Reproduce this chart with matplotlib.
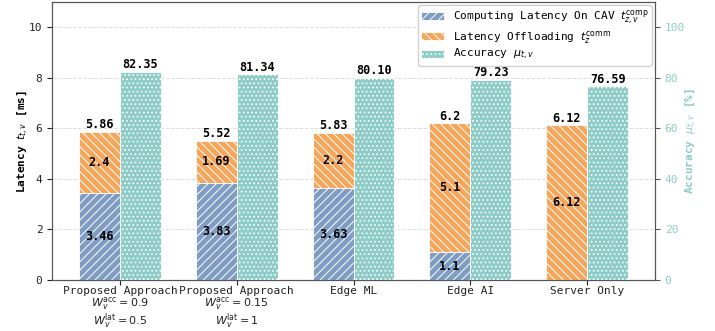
import matplotlib
matplotlib.use("Agg")
import matplotlib.pyplot as plt
import numpy as np

methods = [
    "Proposed Approach\n$W_v^{\\mathrm{acc}}=0.9$\n$W_v^{\\mathrm{lat}}=0.5$",
    "Proposed Approach\n$W_v^{\\mathrm{acc}}=0.15$\n$W_v^{\\mathrm{lat}}=1$",
    "Edge ML",
    "Edge AI",
    "Server Only",
]
comp_latency = [3.46, 3.83, 3.63, 1.1, 0.0]
comm_latency = [2.4, 1.69, 2.2, 5.1, 6.12]
accuracy = [82.35, 81.34, 80.10, 79.23, 76.59]

plt.rcParams["font.family"] = "DejaVu Sans Mono"
plt.rcParams["font.size"] = 8
plt.rcParams["hatch.color"] = "white"
plt.rcParams["hatch.linewidth"] = 0.7

blue = "#7f9cc5"
orange = "#f5a65b"
teal = "#8ecdc7"
spine_col = "#555555"

fig, ax = plt.subplots(figsize=(7.15, 3.31), dpi=100)
fig.subplots_adjust(left=0.073, right=0.916, top=0.994, bottom=0.154)
ax2 = ax.twinx()

x = np.arange(len(methods))
w = 0.35
comp = np.array(comp_latency)
comm = np.array(comm_latency)
total = comp + comm

b1 = ax.bar(x - w / 2, comp, w, color=blue, hatch="////", edgecolor="white",
            linewidth=0.6, label="Computing Latency On CAV $t_{z,v}^{\\mathrm{comp}}$",
            zorder=3)
b2 = ax.bar(x - w / 2, comm, w, bottom=comp, color=orange, hatch="\\\\\\\\",
            edgecolor="white", linewidth=0.6,
            label="Latency Offloading $t_z^{\\mathrm{comm}}$", zorder=3)
b3 = ax2.bar(x + w / 2, accuracy, w, color=teal, hatch="....", edgecolor="white",
             linewidth=0.6, label="Accuracy $\\mu_{t,v}$", zorder=3)

# segment values inside the stacks
for i in range(len(methods)):
    if comp[i] > 0:
        ax.text(x[i] - w / 2, comp[i] / 2, f"{comp[i]:g}", ha="center",
                va="center", fontweight="bold", fontsize=8.5, zorder=5)
    ax.text(x[i] - w / 2, comp[i] + comm[i] / 2, f"{comm[i]:g}", ha="center",
            va="center", fontweight="bold", fontsize=8.5, zorder=5)
    ax.annotate(f"{total[i]:g}", (x[i] - w / 2, total[i]), xytext=(0, 0.5),
                textcoords="offset points", ha="center", va="bottom",
                fontweight="bold", fontsize=8.5)
    ax2.annotate(f"{accuracy[i]:.2f}", (x[i] + w / 2, accuracy[i]),
                 xytext=(0, 0.5), textcoords="offset points", ha="center",
                 va="bottom", fontweight="bold", fontsize=8.5)

ax.set_xlim(-0.58, len(methods) - 1 + 0.58)
ax.set_ylim(0, 11)
ax2.set_ylim(0, 110)
ax.set_yticks(range(0, 11, 2))
ax2.set_yticks(range(0, 101, 20))
ax.set_xticks(x)
ax.set_xticklabels(methods, linespacing=0.95)
ax.tick_params(axis="x", pad=0.5)
ax.yaxis.grid(True, linestyle="--", color="#dddddd", linewidth=0.7, zorder=0)
ax.set_axisbelow(True)

ax.set_ylabel("Latency $t_{t,v}$ [ms]", fontweight="bold", labelpad=-1)
ax2.set_ylabel("Accuracy $\\mu_{t,v}$ [%]", fontweight="bold", color=teal,
               labelpad=-2)
ax2.tick_params(axis="y", colors=spine_col, labelcolor=teal)

for a in (ax, ax2):
    for s in a.spines.values():
        s.set_color(spine_col)
ax.tick_params(colors="#222222")

handles = [b1, b2, b3]
ax2.legend(handles, [h.get_label() for h in handles], loc="upper right",
           fontsize=8, framealpha=0.9, borderaxespad=0.3, labelspacing=0.15,
           borderpad=0.3, handletextpad=0.8)

fig.savefig("out.png", dpi=100)
